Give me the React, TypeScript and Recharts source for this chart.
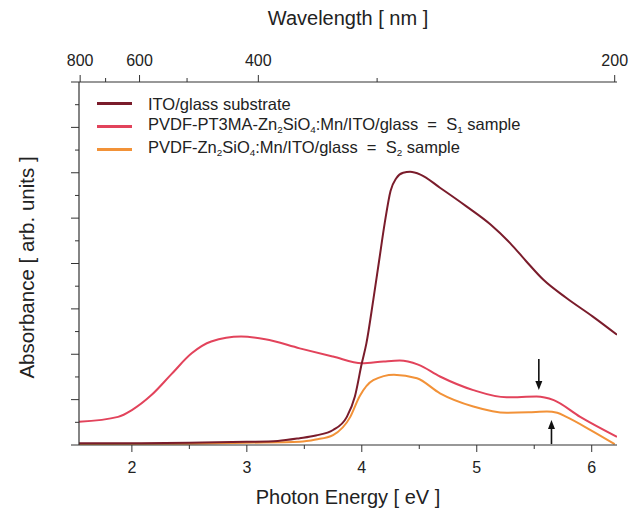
import { LineChart, Line, XAxis, YAxis, Legend, ReferenceDot, Label } from 'recharts';

// photon energy [eV] / absorbance [arb. units]
const itoEnergy = [1.54, 2.0, 2.5, 3.0, 3.27, 3.46, 3.6, 3.75, 3.87, 3.94, 4.0, 4.04, 4.1, 4.15, 4.2, 4.25, 4.3, 4.36, 4.42, 4.51, 4.68, 4.91, 5.12, 5.29, 5.43, 5.58, 5.78, 6.01, 6.22];
const itoAbs = [0.04, 0.04, 0.05, 0.07, 0.09, 0.15, 0.21, 0.33, 0.62, 1.07, 1.8, 2.24, 3.2, 4.05, 4.9, 5.6, 5.88, 6.0, 6.02, 5.96, 5.67, 5.26, 4.86, 4.45, 4.05, 3.64, 3.24, 2.83, 2.43];

const s1Energy = [1.54, 1.88, 2.0, 2.17, 2.34, 2.52, 2.69, 2.95, 3.16, 3.46, 3.75, 4.0, 4.19, 4.33, 4.49, 4.68, 4.97, 5.26, 5.52, 5.67, 5.9, 6.22];
const s1Abs = [0.51, 0.62, 0.77, 1.1, 1.55, 2.02, 2.28, 2.39, 2.33, 2.13, 1.95, 1.8, 1.84, 1.86, 1.77, 1.51, 1.21, 1.05, 1.07, 0.99, 0.62, 0.18];

const s2Energy = [1.54, 2.5, 3.0, 3.46, 3.6, 3.75, 3.9, 3.98, 4.1, 4.28, 4.48, 4.68, 4.97, 5.26, 5.45, 5.61, 5.7, 5.78, 5.99, 6.2];
const s2Abs = [0.02, 0.03, 0.05, 0.07, 0.12, 0.22, 0.62, 1.07, 1.43, 1.55, 1.47, 1.14, 0.85, 0.71, 0.72, 0.74, 0.71, 0.62, 0.33, 0.02];

const energyTicks = [2, 2.5, 3, 3.5, 4, 4.5, 5, 5.5, 6];
const wavelengthTicks = [800, 700, 600, 500, 400, 300, 200];
const wavelengthLabels = [800, 600, 400, 200];
const absTicks = [0, 0.5, 1, 1.5, 2, 2.5, 3, 3.5, 4, 4.5, 5, 5.5, 6, 6.5, 7, 7.5, 8];

const downArrow = { energy: 5.54, abs: 1.21 };
const upArrow = { energy: 5.65, abs: 0.55 };

const toPoints = (e: number[], a: number[]) => e.map((x, i) => ({ energy: x, abs: a[i] }));

const COLORS = { ito: '#7a1c2b', s1: '#e2435b', s2: '#f29238' };
const AXIS = '#333';
const FONT = '"Liberation Sans", Arial, sans-serif';

const BottomTick = ({ x, y, payload }: any) => {
  const major = Number.isInteger(payload.value);
  return (
    <g>
      <line x1={x} y1={y} x2={x} y2={y + (major ? 7 : 4)} stroke={AXIS} />
      {major && (
        <text x={x} y={y + 22} textAnchor="middle" dominantBaseline="central" fontSize={16} fill="#222" fontFamily={FONT}>
          {payload.value}
        </text>
      )}
    </g>
  );
};

const TopTick = ({ x, y, payload }: any) => {
  const nm = Math.round(1240 / payload.value);
  const major = wavelengthLabels.includes(nm);
  return (
    <g>
      <line x1={x} y1={y} x2={x} y2={y - (major ? 7 : 4)} stroke={AXIS} />
      {major && (
        <text x={x} y={y - 22} textAnchor="middle" dominantBaseline="central" fontSize={16} fill="#222" fontFamily={FONT}>
          {nm}
        </text>
      )}
    </g>
  );
};

const LeftTick = ({ x, y, payload }: any) => {
  const major = Number.isInteger(payload.value);
  return <line x1={x} y1={y} x2={x - (major ? 8 : 4)} y2={y} stroke={AXIS} />;
};

const Arrow = ({ cx, cy, up, len }: any) => {
  const d = up ? 1 : -1;
  return (
    <g>
      <line x1={cx} y1={cy + d * len} x2={cx} y2={cy + d * 7} stroke="#111" strokeWidth={1.6} />
      <polygon points={`${cx - 3.5},${cy + d * 9} ${cx + 3.5},${cy + d * 9} ${cx},${cy}`} fill="#111" />
    </g>
  );
};

const subStyle = { fontSize: '0.6em', verticalAlign: '-0.3em' };

const legendItems = [
  { color: COLORS.ito, label: <>ITO/glass substrate</> },
  { color: COLORS.s1, label: <>PVDF-PT3MA-Zn<sub style={subStyle}>2</sub>SiO<sub style={subStyle}>4</sub>:Mn/ITO/glass &nbsp;=&nbsp; S<sub style={subStyle}>1</sub> sample</> },
  { color: COLORS.s2, label: <>PVDF-Zn<sub style={subStyle}>2</sub>SiO<sub style={subStyle}>4</sub>:Mn/ITO/glass &nbsp;=&nbsp; S<sub style={subStyle}>2</sub> sample</> },
];

const LegendBox = () => (
  <div style={{ fontFamily: FONT, fontSize: 16.5, color: '#222' }}>
    {legendItems.map((item, i) => (
      <div key={i} style={{ display: 'flex', alignItems: 'center', height: 23 }}>
        <span style={{ display: 'inline-block', width: 35, height: 2.5, background: item.color, marginRight: 16 }} />
        <span style={{ lineHeight: '18px', whiteSpace: 'nowrap' }}>{item.label}</span>
      </div>
    ))}
  </div>
);

export default function App() {
  return (
    <div style={{ position: 'absolute', left: 0, top: 0, width: 629, height: 512, background: '#fff' }}>
      <LineChart width={629} height={512} margin={{ top: 0, right: 12, bottom: 0, left: 0 }}>
        <XAxis
          xAxisId="bottom"
          dataKey="energy"
          type="number"
          domain={[1.54, 6.22]}
          allowDataOverflow
          ticks={energyTicks}
          interval={0}
          height={67}
          tickSize={0}
          tickMargin={0}
          tickLine={false}
          tick={<BottomTick />}
          axisLine={{ stroke: AXIS, strokeWidth: 1.2 }}
        >
          <Label value="Photon Energy [ eV ]" position="insideBottom" offset={8} style={{ fontSize: 20, fill: '#222', fontFamily: FONT }} />
        </XAxis>
        <XAxis
          xAxisId="top"
          orientation="top"
          dataKey="energy"
          type="number"
          domain={[1.54, 6.22]}
          allowDataOverflow
          ticks={wavelengthTicks.map((nm) => 1240 / nm)}
          interval={0}
          height={82}
          tickSize={0}
          tickMargin={0}
          tickLine={false}
          tick={<TopTick />}
          axisLine={{ stroke: AXIS, strokeWidth: 1.2 }}
        >
          <Label value="Wavelength [ nm ]" position="insideTop" offset={11} style={{ fontSize: 20, fill: '#222', fontFamily: FONT }} />
        </XAxis>
        <YAxis
          yAxisId="left"
          type="number"
          domain={[0, 8]}
          allowDataOverflow
          ticks={absTicks}
          interval={0}
          width={79}
          tickSize={0}
          tickMargin={0}
          tickLine={false}
          tick={<LeftTick />}
          axisLine={{ stroke: AXIS, strokeWidth: 1.2 }}
        >
          <Label value="Absorbance [ arb. units ]" angle={-90} position="insideLeft" offset={27} dy={4} style={{ fontSize: 20.5, fill: '#222', fontFamily: FONT, textAnchor: 'middle' }} />
        </YAxis>
        <YAxis yAxisId="right" orientation="right" domain={[0, 8]} width={0} tick={false} tickLine={false} axisLine={{ stroke: AXIS, strokeWidth: 1.2 }} />
        <Legend
          layout="horizontal"
          verticalAlign="middle"
          align="center"
          content={<LegendBox />}
          wrapperStyle={{ position: 'absolute', left: 97, top: 92, width: 'auto', height: 'auto' }}
        />
        <Line xAxisId="bottom" yAxisId="left" data={toPoints(s2Energy, s2Abs)} dataKey="abs" type="monotone" stroke={COLORS.s2} strokeWidth={2} dot={false} isAnimationActive={false} />
        <Line xAxisId="bottom" yAxisId="left" data={toPoints(s1Energy, s1Abs)} dataKey="abs" type="monotone" stroke={COLORS.s1} strokeWidth={2} dot={false} isAnimationActive={false} />
        <Line xAxisId="bottom" yAxisId="left" data={toPoints(itoEnergy, itoAbs)} dataKey="abs" type="monotone" stroke={COLORS.ito} strokeWidth={2} dot={false} isAnimationActive={false} />
        <ReferenceDot xAxisId="bottom" yAxisId="left" x={downArrow.energy} y={downArrow.abs} shape={(p: any) => <Arrow {...p} up={false} len={31} />} />
        <ReferenceDot xAxisId="bottom" yAxisId="left" x={upArrow.energy} y={upArrow.abs} shape={(p: any) => <Arrow {...p} up len={24} />} />
      </LineChart>
    </div>
  );
}
